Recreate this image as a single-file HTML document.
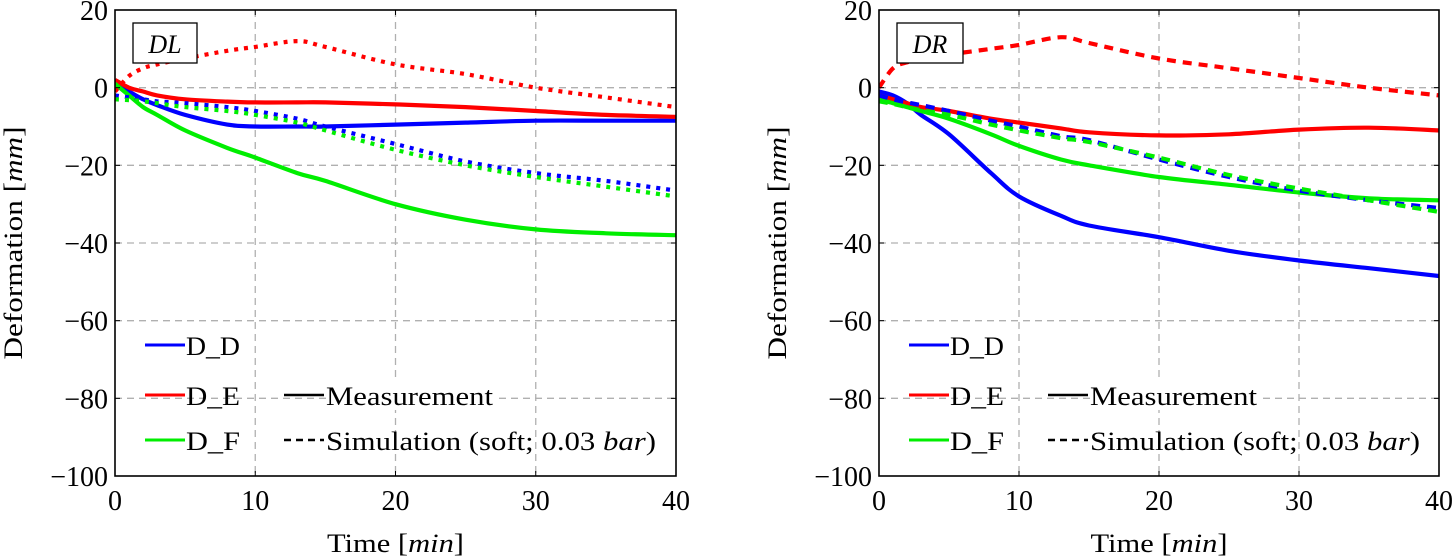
<!DOCTYPE html>
<html><head><meta charset="utf-8">
<style>
html,body{margin:0;padding:0;background:#fff;}
svg{display:block;font-family:"Liberation Serif","DejaVu Serif",serif;}
</style></head>
<body>
<svg id="chart" width="1453" height="558" viewBox="0 0 1453 558" xmlns="http://www.w3.org/2000/svg"></svg>
<script>
const xTicks=[0,10,20,30,40];
const yTicks=[20,0,-20,-40,-60,-80,-100];
const yTickLabels=["20","0","\u221220","\u221240","\u221260","\u221280","\u2212100"];
const seriesNames=["D_D","D_E","D_F"];
// DL panel
const dlTime=[0,1,2,3,5,8,10,13,15,20,25,30,35,40];
const dlMeasD=[1,-1,-3,-4.5,-7,-9.5,-10,-10,-10,-9.5,-9,-8.5,-8.5,-8.5];
const dlMeasE=[2,0,-1,-2,-3,-3.6,-3.8,-3.8,-3.8,-4.3,-5,-6,-7,-7.5];
const dlMeasF=[1,-2,-5,-7,-11,-15.5,-18,-22,-24,-30,-34,-36.5,-37.5,-38];
const dlSimD=[-2,-2.5,-3,-3.5,-4,-5,-6,-8,-10,-14.5,-19,-22,-24,-26.5];
const dlSimE=[-1,3,5,6,7.5,9.5,10.5,12,10.5,6,3.5,0,-2.5,-5];
const dlSimF=[-3,-3.2,-3.5,-4,-5,-6,-7,-9,-11,-16,-20,-23,-25.5,-28];
// DR panel
const drTime=[0,1,2,3,5,8,10,13,15,20,25,30,35,40];
const drMeasD=[-1,-2,-4,-7,-12,-22,-28,-33,-35.5,-38.5,-42,-44.5,-46.5,-48.5];
const drMeasE=[-2,-3,-4,-5,-6,-8,-9,-10.5,-11.5,-12.3,-12,-10.8,-10.3,-11];
const drMeasF=[-3,-4,-5,-6,-8,-12,-15,-18.5,-20,-23,-25,-27,-28.5,-29];
const drSimD=[-2,-3,-3.8,-4.5,-6,-8.5,-10,-12.5,-13.5,-18.5,-23,-26.5,-29,-31];
const drSimE=[0,5,6.5,7,8.5,10,11,13,11.5,7.5,5,2.5,0,-2];
const drSimF=[-3.5,-4.2,-5,-5.8,-7,-9.5,-11,-13,-14,-18,-22.5,-26,-29,-32];

const NS="http://www.w3.org/2000/svg";
const svg=document.getElementById('chart');
const colors=["#0000ff","#ff0000","#00ee00"];
const FS=26;
const TFS=28;
function el(tag,attrs,parent){const e=document.createElementNS(NS,tag);for(const k in attrs)e.setAttribute(k,attrs[k]);(parent||svg).appendChild(e);return e;}
function smooth(pts){
  let d='M'+pts[0][0].toFixed(1)+','+pts[0][1].toFixed(1);
  for(let i=0;i<pts.length-1;i++){
    const p0=pts[i-1]||pts[i],p1=pts[i],p2=pts[i+1],p3=pts[i+2]||p2;
    const c1=[p1[0]+(p2[0]-p0[0])/6,p1[1]+(p2[1]-p0[1])/6];
    const c2=[p2[0]-(p3[0]-p1[0])/6,p2[1]-(p3[1]-p1[1])/6];
    d+=' C'+c1[0].toFixed(1)+','+c1[1].toFixed(1)+' '+c2[0].toFixed(1)+','+c2[1].toFixed(1)+' '+p2[0].toFixed(1)+','+p2[1].toFixed(1);
  }
  return d;
}

function panel(cfg){
  const g=el('g',{});
  
  
  const L=cfg.left,R=cfg.right,T=10,B=476;
  const sx=v=>L+(v-0)/40*(R-L);
  const sy=v=>T+(20-v)/120*(B-T);
  xTicks.forEach(t=>{if(t>0&&t<40){const l=el('line',{x1:sx(t),x2:sx(t),y1:T,y2:B,stroke:'#b0b0b0','stroke-width':1.3,'stroke-dasharray':'7,5'},g);}});
  yTicks.forEach(t=>{if(t<20&&t>-100){const l=el('line',{x1:L,x2:R,y1:sy(t),y2:sy(t),stroke:'#b0b0b0','stroke-width':1.3,'stroke-dasharray':'7,5'},g);}});
  const sim=[cfg.simD,cfg.simE,cfg.simF], meas=[cfg.measD,cfg.measE,cfg.measF];
  const clip=el('clipPath',{id:'clip-'+cfg.name},g);el('rect',{x:L,y:T,width:R-L,height:B-T},clip);
  const mk=(arr,i,dash,nm)=>{
    const d=smooth(arr.map((v,j)=>[sx(cfg.time[j]),sy(v)]));
    const p=el('path',{d:d,fill:'none',stroke:colors[i],'stroke-width':4.2,'stroke-linejoin':'round','clip-path':'url(#clip-'+cfg.name+')'},g);
    if(dash)p.setAttribute('stroke-dasharray',dash);
    
    
  };
  meas.forEach((a,i)=>mk(a,i,null,'measurement-'+seriesNames[i].toLowerCase().replace('_','-')));
  sim.forEach((a,i)=>mk(a,i,cfg.dash,'simulation-'+seriesNames[i].toLowerCase().replace('_','-')));
  const fr=el('rect',{x:L,y:T,width:R-L,height:B-T,fill:'none',stroke:'#000','stroke-width':1.6},g);
  
  xTicks.forEach(t=>{
    el('line',{x1:sx(t),x2:sx(t),y1:B,y2:B-5,stroke:'#000','stroke-width':1},g);
    el('line',{x1:sx(t),x2:sx(t),y1:T,y2:T+5,stroke:'#000','stroke-width':1},g);
    const tx=el('text',{x:sx(t),y:B+34,'font-size':TFS,'text-anchor':'middle'},g);tx.textContent=t;
    
  });
  yTicks.forEach((t,i)=>{
    el('line',{x1:L,x2:L+5,y1:sy(t),y2:sy(t),stroke:'#000','stroke-width':1},g);
    el('line',{x1:R,x2:R-5,y1:sy(t),y2:sy(t),stroke:'#000','stroke-width':1},g);
    const tx=el('text',{x:L-7,y:sy(t)+10,'font-size':TFS,'text-anchor':'end'},g);tx.textContent=yTickLabels[i];
    
  });
  const xt=el('text',{x:(L+R)/2,y:552,'font-size':FS,'text-anchor':'middle',textLength:137,lengthAdjust:'spacingAndGlyphs'},g);
  xt.innerHTML='Time [<tspan font-style="italic">min</tspan>]';
  
  const yt=el('text',{x:0,y:0,'font-size':FS,'text-anchor':'middle',textLength:233,lengthAdjust:'spacingAndGlyphs',transform:'translate('+(L-93)+',243) rotate(-90)'},g);
  yt.innerHTML='Deformation [<tspan font-style="italic">mm</tspan>]';
  
  const bx=el('rect',{x:L+18,y:23,width:cfg.boxW,height:40,fill:'#fff',stroke:'#000','stroke-width':1.3},g);
  
  const bt=el('text',{x:L+18+cfg.boxW/2,y:53,'font-size':FS,'font-style':'italic','text-anchor':'middle'},g);
  bt.textContent=cfg.label;
  
  const lx=L+30;
  const leg=el('g',{},g);
  const ly=[345,395,440];
  seriesNames.forEach((n,i)=>{
    el('line',{x1:lx,x2:lx+40,y1:ly[i],y2:ly[i],stroke:colors[i],'stroke-width':3},leg);
    const t=el('text',{x:lx+41,y:ly[i]+10,'font-size':FS,textLength:54,lengthAdjust:'spacingAndGlyphs'},leg);t.textContent=n;
    
  });
  el('rect',{x:lx+181,y:378,width:170,height:32,fill:'#fff'},leg);
  el('line',{x1:lx+139,x2:lx+179,y1:395,y2:395,stroke:'#000','stroke-width':2.5},leg);
  const m=el('text',{x:lx+181,y:405,'font-size':FS,textLength:167,lengthAdjust:'spacingAndGlyphs'},leg);m.textContent='Measurement';
  
  el('line',{x1:lx+139,x2:lx+179,y1:440,y2:440,stroke:'#000','stroke-width':2.5,'stroke-dasharray':'7,5'},leg);
  const s=el('text',{x:lx+181,y:450,'font-size':FS,textLength:330,lengthAdjust:'spacingAndGlyphs'},leg);
  s.innerHTML='Simulation (soft; 0.03 <tspan font-style="italic">bar</tspan>)';
  
}
panel({name:'dl',label:'DL',left:115,right:676,boxW:64,dash:'4,6',time:dlTime,
  measD:dlMeasD,measE:dlMeasE,measF:dlMeasF,simD:dlSimD,simE:dlSimE,simF:dlSimF});
panel({name:'dr',label:'DR',left:879,right:1439,boxW:66,dash:'9,7',time:drTime,
  measD:drMeasD,measE:drMeasE,measF:drMeasF,simD:drSimD,simE:drSimE,simF:drSimF});
</script>
</body></html>
